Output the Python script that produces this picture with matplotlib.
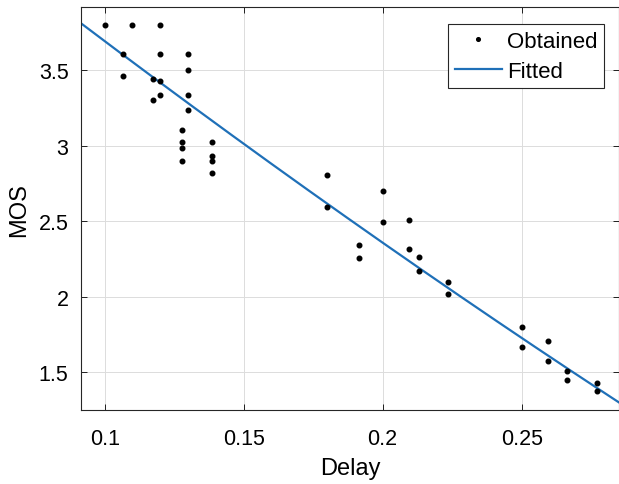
import matplotlib

matplotlib.use("Agg")
import matplotlib.pyplot as plt
import numpy as np

plt.rcParams["font.family"] = ["Liberation Sans", "DejaVu Sans"]

# obtained (delay, MOS) samples
delay = [
    0.100, 0.110, 0.120, 0.1065, 0.120, 0.130, 0.1065, 0.130, 0.1175, 0.120,
    0.120, 0.1175, 0.130, 0.130, 0.128, 0.128, 0.128, 0.128, 0.1387, 0.1387,
    0.1387, 0.1387,
    0.180, 0.180, 0.200, 0.200, 0.1916, 0.1916, 0.2096, 0.2096, 0.213, 0.213,
    0.2236, 0.2236,
    0.250, 0.250, 0.2595, 0.2595, 0.2663, 0.2663, 0.277, 0.277,
]
mos = [
    3.80, 3.80, 3.80, 3.608, 3.606, 3.606, 3.463, 3.50, 3.44, 3.427,
    3.335, 3.306, 3.335, 3.24, 3.103, 3.022, 2.984, 2.90, 3.022, 2.931,
    2.90, 2.821,
    2.806, 2.592, 2.70, 2.495, 2.345, 2.259, 2.506, 2.316, 2.266, 2.173,
    2.10, 2.018,
    1.80, 1.664, 1.704, 1.575, 1.507, 1.448, 1.426, 1.373,
]

# fitted curve coefficients (MOS = a + b*d + c*d^2)
fit_a, fit_b, fit_c = 5.126, -14.818, 4.89

x_lim = (0.0915, 0.285)
y_lim = (1.25, 3.917)
x_ticks = [0.1, 0.15, 0.2, 0.25]
y_ticks = [1.5, 2, 2.5, 3, 3.5]

fig = plt.figure(figsize=(6.19, 4.85), dpi=100)
ax = fig.add_axes([81 / 619, 74 / 485, 538 / 619, 402.7 / 485])

ax.plot(delay, mos, "o", color="black", markersize=3.3, label="Obtained", zorder=3)
d = np.linspace(x_lim[0], x_lim[1], 200)
ax.plot(d, fit_a + fit_b * d + fit_c * d**2, color="#1f70b8", linewidth=1.6, label="Fitted", zorder=2)

ax.set_xlim(*x_lim)
ax.set_ylim(*y_lim)
ax.set_xticks(x_ticks)
ax.set_xticklabels(["0.1", "0.15", "0.2", "0.25"])
ax.set_yticks(y_ticks)
ax.set_yticklabels(["1.5", "2", "2.5", "3", "3.5"])
ax.tick_params(direction="in", length=4, width=0.6, labelsize=15.5, top=True, right=True)
ax.tick_params(axis="x", pad=13)
ax.tick_params(axis="y", pad=9)
ax.grid(True, color="#dcdcdc", linewidth=0.7)
ax.set_axisbelow(True)
for s in ax.spines.values():
    s.set_color("#262626")
    s.set_linewidth(0.8)

ax.set_xlabel("Delay", fontsize=17, labelpad=6)
ax.set_ylabel("MOS", fontsize=17, labelpad=6)

leg = ax.legend(loc="upper right", fontsize=16, frameon=True, fancybox=False,
                bbox_to_anchor=(0.973, 0.958), borderaxespad=0.0,
                handlelength=2.1, handletextpad=0.25, borderpad=0.3,
                labelspacing=0.4, markerscale=0.8)
leg.get_frame().set_edgecolor("#262626")
leg.get_frame().set_linewidth(0.8)
leg.get_frame().set_alpha(1)

fig.savefig("out.png", dpi=100, facecolor="white")
